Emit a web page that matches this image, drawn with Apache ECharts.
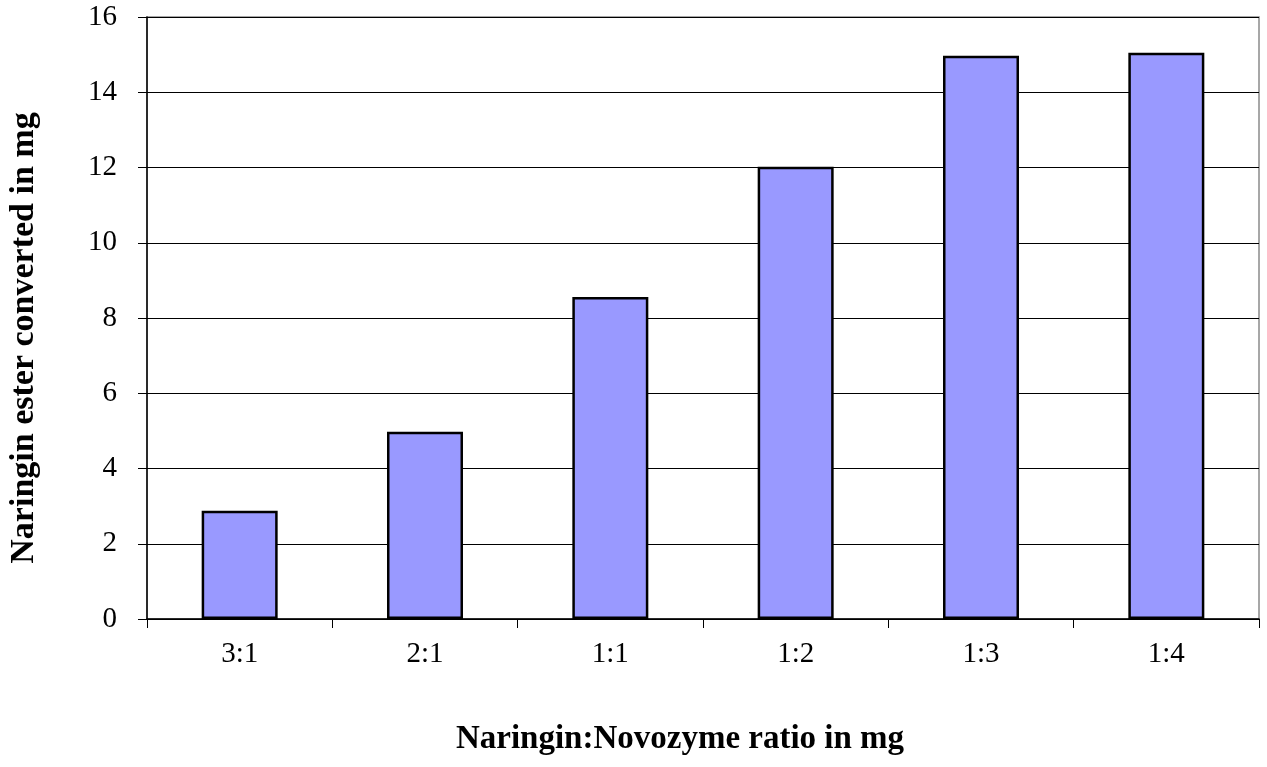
<!DOCTYPE html>
<html>
<head>
<meta charset="utf-8">
<script src="https://cdn.jsdelivr.net/npm/echarts@6/dist/echarts.min.js"></script>
<style>
  html, body { margin: 0; padding: 0; background: #fff; }
  #main { width: 1267px; height: 767px; }
</style>
</head>
<body>
<div id="main"></div>
<script>
const categories = ['3:1', '2:1', '1:1', '1:2', '1:3', '1:4'];
const esterValues = [2.88, 4.98, 8.56, 12.02, 14.97, 15.05];
const yTicks = [0, 2, 4, 6, 8, 10, 12, 14, 16];

const chart = echarts.init(document.getElementById('main'));

const font = '"Liberation Serif", "Times New Roman", serif';

const option = {
  backgroundColor: '#fff',
  textStyle: { fontFamily: font },
  grid: {
    left: 147,
    right: 8,
    top: 17,
    bottom: 148,
    outerBoundsMode: 'none',
    containLabel: false,
    show: true,
    borderColor: '#8a8a8a',
    borderWidth: 1.5,
    backgroundColor: 'transparent'
  },
  xAxis: {
    type: 'category',
    data: categories,
    name: 'Naringin:Novozyme ratio in mg',
    nameLocation: 'middle',
    nameGap: 104,
    nameTextStyle: {
      fontSize: 33, fontWeight: 'bold', color: '#000', fontFamily: font,
      padding: [0, 46, 0, 0]
    },
    axisLine: { lineStyle: { color: '#000', width: 1.5 } },
    axisTick: { show: true, length: 9, alignWithLabel: false, lineStyle: { color: '#000' } },
    axisLabel: { fontSize: 29, color: '#000', margin: 21, fontFamily: font }
  },
  yAxis: {
    type: 'value',
    min: yTicks[0],
    max: yTicks[yTicks.length - 1],
    interval: 2,
    name: 'Naringin ester converted in mg',
    nameLocation: 'middle',
    nameGap: 106,
    nameRotate: 90,
    nameTextStyle: {
      fontSize: 34, fontWeight: 'bold', color: '#000', fontFamily: font,
      padding: [0, 40, 0, 0]
    },
    axisLine: { show: true, lineStyle: { color: '#000', width: 1.5 } },
    axisTick: { show: true, length: 9, inside: false, lineStyle: { color: '#000' } },
    axisLabel: { fontSize: 29, color: '#000', margin: 30, fontFamily: font },
    splitLine: { show: true, lineStyle: { color: '#000', width: 1 } }
  },
  series: [{
    type: 'bar',
    data: esterValues,
    barWidth: '41%',
    itemStyle: {
      color: '#9999ff',
      borderColor: '#000',
      borderWidth: 2.5
    }
  }]
};

chart.setOption(option);
</script>
</body>
</html>
